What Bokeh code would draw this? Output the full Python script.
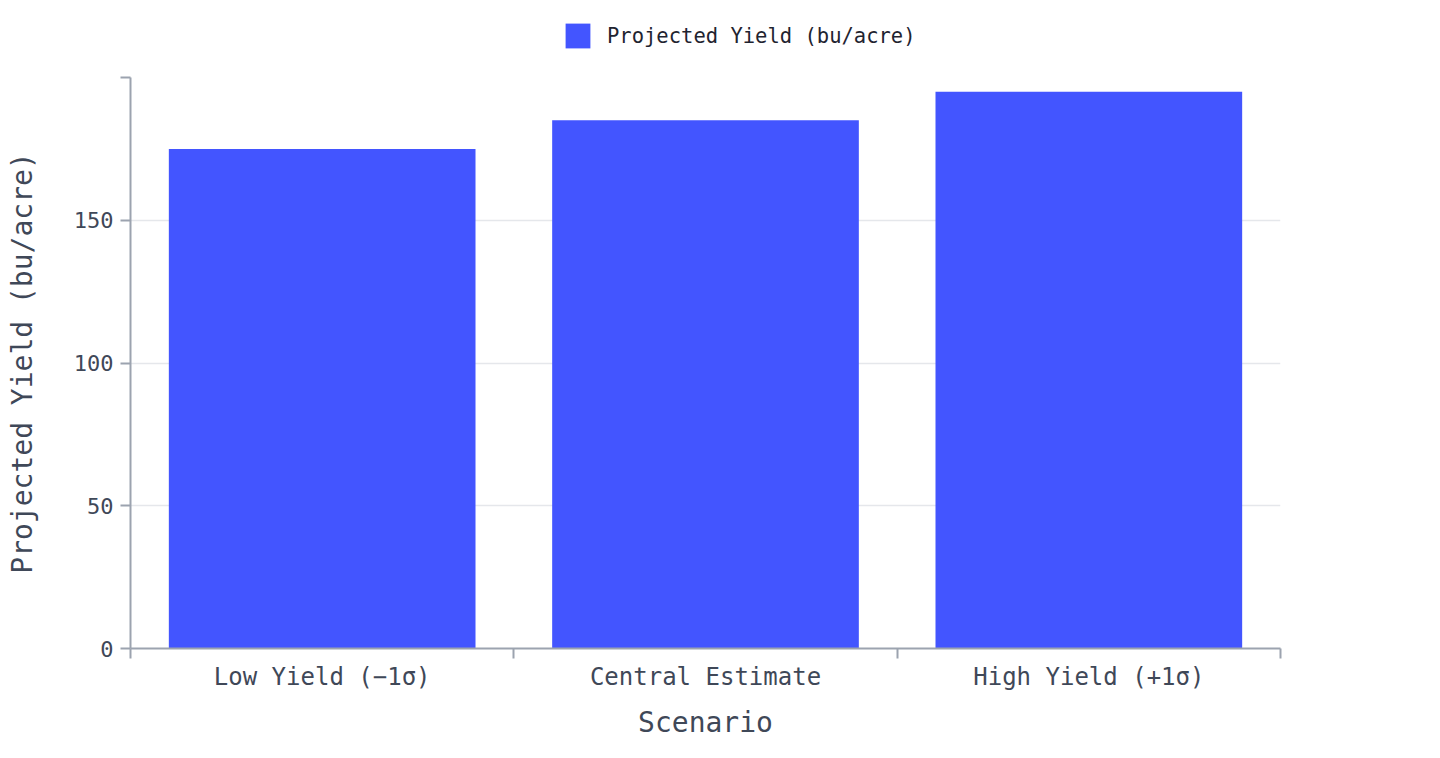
from bokeh.plotting import figure
from bokeh.layouts import column
from bokeh.models import (ColumnDataSource, FixedTicker, Range1d, Legend, LegendItem,
                          LinearAxis)
from bokeh.embed import file_html
from bokeh.resources import INLINE

scenarios = ["Low Yield (\u22121\u03c3)", "Central Estimate", "High Yield (+1\u03c3)"]
yields = [175, 185, 195]
series_name = "Projected Yield (bu/acre)"
y_ticks = [0, 50, 100, 150, 200]
y_tick_labels = {0: "0", 50: "50", 100: "100", 150: "150", 200: ""}

FONT = "DejaVu Sans Mono"
BAR = "#4355ff"
AXIS = "#9ca3af"
TEXT = "#3f4858"

xs = [i + 0.5 for i in range(len(scenarios))]
src = ColumnDataSource(dict(x=xs, top=yields, name=scenarios))

TOP_H = 72
FRAME_LEFT = 130

p = figure(width=1440, height=758 - TOP_H, output_backend="svg", toolbar_location=None,
           x_range=Range1d(0, len(scenarios)), y_range=Range1d(0, 200),
           min_border_left=FRAME_LEFT, min_border_right=160, min_border_top=77 - TOP_H,
           min_border_bottom=110, x_axis_location=None, y_axis_location=None)
p.outline_line_color = None
p.background_fill_color = "white"

r = p.vbar(x="x", top="top", width=0.8, source=src, fill_color=BAR, line_color=None)

# axes
xaxis = LinearAxis(ticker=FixedTicker(ticks=xs, minor_ticks=list(range(len(scenarios) + 1))),
                   major_label_overrides={x: s for x, s in zip(xs, scenarios)})
xaxis.axis_label = "Scenario"
xaxis.major_tick_out = 0
xaxis.major_tick_in = 0
xaxis.minor_tick_out = 10
xaxis.minor_tick_in = 0
xaxis.minor_tick_line_color = AXIS
xaxis.minor_tick_line_width = 2
xaxis.axis_line_color = AXIS
xaxis.axis_line_width = 2
xaxis.major_label_text_font = FONT
xaxis.major_label_text_font_size = "24px"
xaxis.major_label_text_color = TEXT
xaxis.major_label_standoff = 4
xaxis.axis_label_text_font = FONT
xaxis.axis_label_text_font_size = "28px"
xaxis.axis_label_text_font_style = "normal"
xaxis.axis_label_text_color = TEXT
xaxis.axis_label_standoff = 12
p.add_layout(xaxis, "below")

yaxis = LinearAxis(ticker=FixedTicker(ticks=y_ticks), major_label_overrides=y_tick_labels)
yaxis.axis_label = series_name
yaxis.major_tick_out = 10
yaxis.major_tick_in = 0
yaxis.major_tick_line_color = AXIS
yaxis.major_tick_line_width = 2
yaxis.minor_tick_line_color = None
yaxis.axis_line_color = AXIS
yaxis.axis_line_width = 2
yaxis.major_label_text_font = FONT
yaxis.major_label_text_font_size = "22px"
yaxis.major_label_text_color = TEXT
yaxis.major_label_standoff = 7
yaxis.axis_label_text_font = FONT
yaxis.axis_label_text_font_size = "28px"
yaxis.axis_label_text_font_style = "normal"
yaxis.axis_label_text_color = TEXT
yaxis.axis_label_standoff = 32
p.add_layout(yaxis, "left")

p.xgrid.grid_line_color = None
p.ygrid.ticker = FixedTicker(ticks=y_ticks)
p.ygrid.grid_line_color = "#e5e7eb"
p.ygrid.grid_line_width = 1.5

# legend strip above the plot (its frame is aligned with the main plot's frame)
top = figure(width=1440, height=TOP_H, output_backend="svg", toolbar_location=None,
             x_range=Range1d(0, len(scenarios)), y_range=Range1d(1000, 1001),
             min_border=0, x_axis_location=None, y_axis_location=None)
top.outline_line_color = None
top.grid.grid_line_color = None
lr = top.vbar(x="x", top="top", width=0.8, source=src, fill_color=BAR, line_color=None)

legend = Legend(items=[LegendItem(label=series_name, renderers=[lr])],
                location=(562 - FRAME_LEFT, TOP_H - 51), orientation="horizontal")
legend.border_line_color = None
legend.background_fill_alpha = 0
legend.glyph_width = 31
legend.glyph_height = 31
legend.label_height = 31
legend.label_text_font = FONT
legend.label_text_font_size = "20.5px"
legend.label_text_color = "#1f2430"
legend.label_standoff = 14
legend.padding = 0
legend.margin = 0
top.add_layout(legend, "center")

layout = column(top, p, spacing=0)
open("out.html", "w").write(file_html(layout, INLINE))
